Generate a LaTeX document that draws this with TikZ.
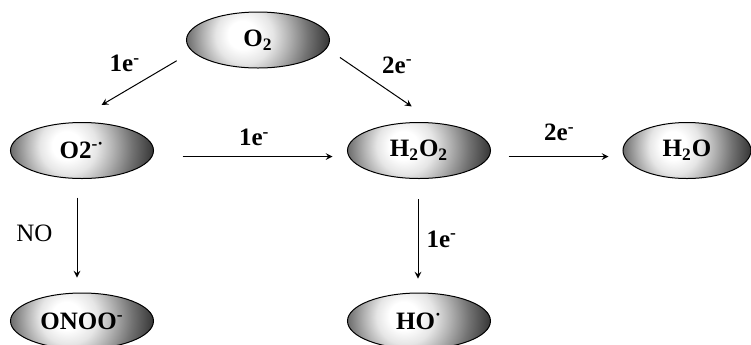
\documentclass[tikz,border=0pt]{standalone}
\usepackage{fontspec}
\setmainfont{Liberation Serif}
\usetikzlibrary{shapes.geometric}

% 楕円の陰影（左寄りのハイライト）
\pgfdeclareradialshading{pearl}{\pgfpoint{-6bp}{2bp}}{%
  color(0bp)=(white); color(5bp)=(white); color(10bp)=(black!10);
  color(15bp)=(black!30); color(21bp)=(black!55); color(28bp)=(black!80);
  color(34bp)=(black); color(50bp)=(black)}

\begin{document}
\begin{tikzpicture}[x=0.5pt, y=0.5pt, >=stealth, line width=0.5pt,
  mol/.style={ellipse, draw=black, minimum width=71.5pt, minimum height=28pt, inner sep=0pt,
    font=\fontsize{12.5}{15}\selectfont\bfseries,
    path picture={\shade[shading=pearl]
      ([yshift=-21pt]path picture bounding box.south west) rectangle
      ([yshift=21pt]path picture bounding box.north east);}},
  lbl/.style={inner sep=1pt, font=\fontsize{12.5}{15}\selectfont\bfseries},
  reagent/.style={inner sep=1pt, font=\fontsize{12.5}{15}\selectfont}]
  \useasboundingbox (0,0) rectangle (751,-344);

  % 分子種（楕円）
  \node[mol] (o2)    at (258,-40)    {O\textsubscript{2}};
  \node[mol] (sup)   at (82,-150.5)  {O2\textsuperscript{-·}};
  \node[mol] (hoo)   at (419,-150.5) {H\textsubscript{2}O\textsubscript{2}};
  \node[mol, minimum width=64pt] (water) at (687,-150.5) {H\textsubscript{2}O};
  \node[mol] (onoo)  at (82,-321)    {ONOO\textsuperscript{-}};
  \node[mol] (ho)    at (419,-321)   {HO\textsuperscript{·}};

  % O2 からの還元
  \draw[->, shorten <=9pt, shorten >=17pt] (o2.190) -- (sup.109)
    node[lbl, pos=0.38, above left=2pt] {1e\textsuperscript{-}};
  \draw[->, shorten <=8pt, shorten >=14.5pt] (o2.-7) -- (hoo.59)
    node[lbl, pos=0.44, above right=2.5pt] {2e\textsuperscript{-}};

  % 横方向の反応
  \draw[->, shorten <=14.25pt, shorten >=7.25pt] ([yshift=-3pt]sup.east) -- ([yshift=-3pt]hoo.west)
    node[lbl, pos=0.52, above=4pt] {1e\textsuperscript{-}};
  \draw[->, shorten <=8.75pt, shorten >=7pt] ([yshift=-3pt]hoo.east) -- ([yshift=-3pt]water.west)
    node[lbl, pos=0.52, above=6.5pt] {2e\textsuperscript{-}};

  % 縦方向の反応
  \draw[->, shorten <=9.25pt, shorten >=7.5pt] ([xshift=-2.5pt]sup.south) -- ([xshift=-2.5pt]onoo.north)
    node[reagent, pos=0.48, left=11pt] {NO};
  \draw[->, shorten <=10pt, shorten >=7pt] ([xshift=-0.5pt]hoo.south) -- ([xshift=-0.5pt]ho.north)
    node[lbl, pos=0.53, right=3pt] {1e\textsuperscript{-}};

\end{tikzpicture}
\end{document}
